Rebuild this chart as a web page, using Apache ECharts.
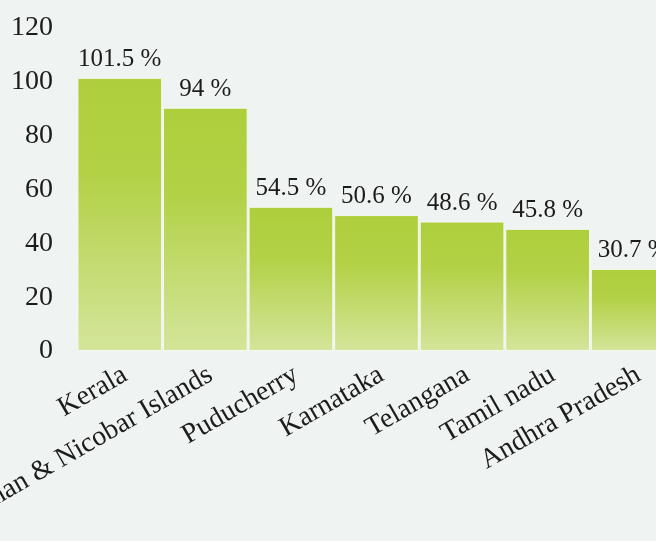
<!DOCTYPE html>
<html><head><meta charset="utf-8">
<script src="https://cdn.jsdelivr.net/npm/echarts@6/dist/echarts.min.js"></script>
<style>html,body{margin:0;padding:0;background:#eff3f2;}#c{width:656px;height:541px;}</style>
</head><body><div id="c"></div>
<script>
const categories = ["Kerala", "Andaman & Nicobar Islands", "Puducherry", "Karnataka", "Telangana", "Tamil nadu", "Andhra Pradesh"];
const values = [101.5, 90.4, 53.6, 50.5, 48.1, 45.4, 30.5];
const labels = ["101.5 %", "94 %", "54.5 %", "50.6 %", "48.6 %", "45.8 %", "30.7 %"];
const yTicks = [0, 20, 40, 60, 80, 100, 120];

const chart = echarts.init(document.getElementById('c'), null, {renderer: 'canvas'});
const font = '"Liberation Serif", "DejaVu Serif", serif';
chart.setOption({
  backgroundColor: '#eff3f2',
  animation: false,
  grid: {left: 77, top: 28, width: 599, height: 323, containLabel: false, outerBoundsMode: 'none'},
  xAxis: {
    type: 'category', data: categories,
    axisLine: {show: false}, axisTick: {show: false},
    axisLabel: {rotate: 30, interval: 0, margin: 25, padding: [0, -6, 0, 0], color: '#1c1c1c', fontFamily: font, fontSize: 28}
  },
  yAxis: {
    type: 'value', min: yTicks[0], max: yTicks[yTicks.length - 1], interval: 20,
    splitLine: {show: false}, axisLine: {show: false}, axisTick: {show: false},
    axisLabel: {margin: 24, color: '#1c1c1c', fontFamily: font, fontSize: 28}
  },
  series: [{
    type: 'bar', data: values, barCategoryGap: '1%',
    itemStyle: {
      borderColor: '#f6f8f2', borderWidth: 1,
      color: new echarts.graphic.LinearGradient(0, 0, 0, 1, [
        {offset: 0, color: '#aecf3c'},
        {offset: 0.35, color: '#b2d145'},
        {offset: 1, color: '#d4e59b'}
      ])
    },
    label: {
      show: true, position: 'top', distance: 6, color: '#1c1c1c', fontFamily: font, fontSize: 25,
      formatter: p => labels[p.dataIndex]
    }
  }]
});
</script></body></html>
